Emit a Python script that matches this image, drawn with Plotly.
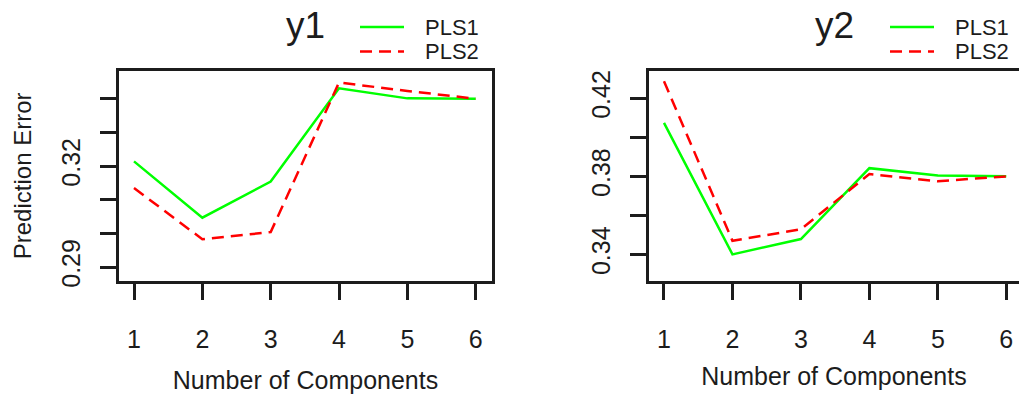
import plotly.graph_objects as go

# Prediction error against number of components, two responses
components = [1, 2, 3, 4, 5, 6]

y1_pls1 = [0.3214, 0.3047, 0.3154, 0.3431, 0.3401, 0.3400]
y1_pls2 = [0.3135, 0.2983, 0.3004, 0.3448, 0.3423, 0.3400]

y2_pls1 = [0.4074, 0.3400, 0.3479, 0.3842, 0.3804, 0.3801]
y2_pls2 = [0.4287, 0.3470, 0.3529, 0.3812, 0.3775, 0.3800]

series_names = ["PLS1", "PLS2"]
panel_titles = ["y1", "y2"]

y1_tickvals = [0.29, 0.30, 0.31, 0.32, 0.33, 0.34]
y1_ticktext = ["0.29", "", "", "0.32", "", ""]
y2_tickvals = [0.34, 0.36, 0.38, 0.40, 0.42]
y2_ticktext = ["0.34", "", "0.38", "", "0.42"]

x_title = "Number of Components"
y_title = "Prediction Error"

W, H = 1019, 400
FONT = "Liberation Sans, Arial, sans-serif"
INK = "#1c1c1c"

line_styles = {
    "PLS1": dict(color="#00ff00", width=2.5, dash="solid"),
    "PLS2": dict(color="#ff0000", width=2.5, dash="12px,7px"),
}


def px_x(p):
    return p / W


def px_y(p):
    return 1 - p / H


plot_top, plot_bottom = 72, 286
panels = [
    dict(title=panel_titles[0], xa="x", ya="y", values=[y1_pls1, y1_pls2],
         left=119, right=492, xrange=[0.7805, 6.2385], yrange=[0.2859, 0.3483],
         tickvals=y1_tickvals, ticktext=y1_ticktext, ytitle=y_title, box_right=True,
         xstandoff=20),
    dict(title=panel_titles[1], xa="x2", ya="y2", values=[y2_pls1, y2_pls2],
         left=649, right=1019, xrange=[0.781, 6.1855], yrange=[0.3264, 0.4341],
         tickvals=y2_tickvals, ticktext=y2_ticktext, ytitle="", box_right=False,
         xstandoff=16),
]

fig = go.Figure()
shapes, annotations = [], []

for i, p in enumerate(panels):
    for name, vals in zip(series_names, p["values"]):
        fig.add_trace(go.Scatter(
            x=components, y=vals, mode="lines", name=name,
            line=line_styles[name], xaxis=p["xa"], yaxis=p["ya"],
            showlegend=False, hoverinfo="x+y+name",
        ))

    suffix = "" if i == 0 else str(i + 1)
    fig.update_layout(**{
        "xaxis" + suffix: dict(
            domain=[px_x(p["left"]), px_x(p["right"])], anchor=p["ya"],
            range=p["xrange"], tickvals=components,
            ticks="outside", ticklen=16, tickwidth=2.5, tickcolor=INK,
            showline=True, linewidth=2.5, linecolor=INK, mirror=True,
            showgrid=False, zeroline=False,
            tickfont=dict(family=FONT, size=25, color=INK),
            ticklabelstandoff=18,
            title=dict(text=x_title, font=dict(family=FONT, size=25, color=INK),
                       standoff=p["xstandoff"]),
        ),
        "yaxis" + suffix: dict(
            domain=[px_y(plot_bottom), px_y(plot_top)], anchor=p["xa"],
            range=p["yrange"], tickvals=p["tickvals"], ticktext=p["ticktext"],
            tickangle=-90,
            ticks="outside", ticklen=16, tickwidth=2.5, tickcolor=INK,
            showline=True, linewidth=2.5, linecolor=INK, mirror=p["box_right"],
            showgrid=False, zeroline=False,
            tickfont=dict(family=FONT, size=25, color=INK),
            ticklabelstandoff=10,
            title=dict(text=p["ytitle"], font=dict(family=FONT, size=24, color=INK), standoff=19),
        ),
    })

    # panel heading
    annotations.append(dict(
        text=p["title"], xref=p["xa"] + " domain", x=0.5, yref="paper", y=px_y(26),
        xanchor="center", yanchor="middle", showarrow=False,
        font=dict(family=FONT, size=37, color=INK),
    ))

    # key in the top-right corner above each panel
    for k, name in enumerate(series_names):
        ly = 27.5 + 25 * k
        st = line_styles[name]
        shapes.append(dict(
            type="line", xref="paper", yref="paper",
            x0=px_x(p["left"] + 241), x1=px_x(p["left"] + 285),
            y0=px_y(ly), y1=px_y(ly),
            line=dict(color=st["color"], width=st["width"], dash=st["dash"]),
        ))
        annotations.append(dict(
            text=name, xref="paper", yref="paper",
            x=px_x(p["left"] + 304), y=px_y(ly),
            xanchor="left", yanchor="middle", showarrow=False,
            font=dict(family=FONT, size=22, color=INK),
        ))

fig.update_layout(
    width=W, height=H,
    margin=dict(l=0, r=0, t=0, b=0),
    paper_bgcolor="white", plot_bgcolor="white",
    font=dict(family=FONT, color=INK),
    shapes=shapes, annotations=annotations,
    showlegend=False,
)

fig.write_html("out.html")
